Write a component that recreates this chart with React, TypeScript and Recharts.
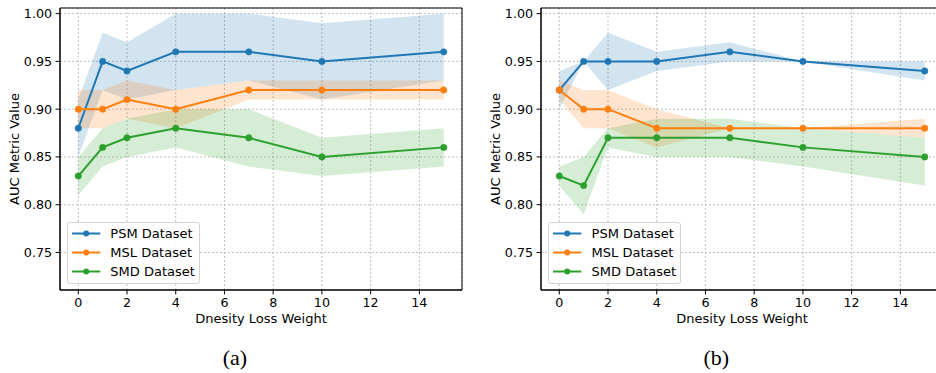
import React from "react";
import {
  ComposedChart,
  Line,
  Area,
  XAxis,
  YAxis,
  CartesianGrid,
  Legend,
  ReferenceArea,
} from "recharts";

// ---- data ----
const xs = [0, 1, 2, 4, 7, 10, 15];
const seriesNames = ["PSM Dataset", "MSL Dataset", "SMD Dataset"];
const colors = ["#1f77b4", "#ff7f0e", "#2ca02c"];
const xTicks = [0, 2, 4, 6, 8, 10, 12, 14];
const yTicks = [0.75, 0.8, 0.85, 0.9, 0.95, 1.0];

// panel (a)
const psmA = [0.88, 0.95, 0.94, 0.96, 0.96, 0.95, 0.96];
const psmALo = [0.85, 0.92, 0.91, 0.92, 0.93, 0.91, 0.93];
const psmAHi = [0.91, 0.98, 0.97, 1.0, 1.0, 0.99, 1.0];
const mslA = [0.9, 0.9, 0.91, 0.9, 0.92, 0.92, 0.92];
const mslALo = [0.88, 0.88, 0.89, 0.88, 0.91, 0.91, 0.91];
const mslAHi = [0.92, 0.92, 0.93, 0.92, 0.93, 0.93, 0.93];
const smdA = [0.83, 0.86, 0.87, 0.88, 0.87, 0.85, 0.86];
const smdALo = [0.81, 0.84, 0.85, 0.86, 0.84, 0.83, 0.84];
const smdAHi = [0.85, 0.88, 0.89, 0.9, 0.9, 0.87, 0.88];

// panel (b)
const psmB = [0.92, 0.95, 0.95, 0.95, 0.96, 0.95, 0.94];
const psmBLo = [0.9, 0.95, 0.92, 0.94, 0.95, 0.95, 0.93];
const psmBHi = [0.94, 0.95, 0.98, 0.96, 0.97, 0.95, 0.95];
const mslB = [0.92, 0.9, 0.9, 0.88, 0.88, 0.88, 0.88];
const mslBLo = [0.91, 0.88, 0.88, 0.86, 0.88, 0.88, 0.87];
const mslBHi = [0.93, 0.92, 0.92, 0.9, 0.88, 0.88, 0.89];
const smdB = [0.83, 0.82, 0.87, 0.87, 0.87, 0.86, 0.85];
const smdBLo = [0.82, 0.79, 0.86, 0.85, 0.85, 0.84, 0.82];
const smdBHi = [0.84, 0.85, 0.88, 0.89, 0.89, 0.88, 0.87];

const X_DOMAIN: [number, number] = [-0.75, 15.75];
const Y_DOMAIN: [number, number] = [0.7107, 1.0059];
const FONT = "'DejaVu Sans', sans-serif";

function buildRows(vals: number[][], los: number[][], his: number[][]) {
  return xs.map((x, i) => ({
    x,
    s0: vals[0][i],
    s1: vals[1][i],
    s2: vals[2][i],
    b0: [los[0][i], his[0][i]],
    b1: [los[1][i], his[1][i]],
    b2: [los[2][i], his[2][i]],
  }));
}

const dataA = buildRows(
  [psmA, mslA, smdA],
  [psmALo, mslALo, smdALo],
  [psmAHi, mslAHi, smdAHi]
);
const dataB = buildRows(
  [psmB, mslB, smdB],
  [psmBLo, mslBLo, smdBLo],
  [psmBHi, mslBHi, smdBHi]
);

const LegendBox = () => (
  <div
    style={{
      position: "relative",
      width: 133,
      height: 62,
      boxSizing: "border-box",
      border: "1px solid #d3d3d3",
      borderRadius: 3,
      background: "rgba(255,255,255,0.8)",
      fontFamily: FONT,
      fontSize: 13,
      color: "#000",
    }}
  >
    {seriesNames.map((n, i) => (
      <div
        key={n}
        style={{
          position: "absolute",
          left: 0,
          top: 1.2 + i * 18.9,
          height: 19,
          display: "flex",
          alignItems: "center",
          whiteSpace: "nowrap",
        }}
      >
        <svg width={40} height={19} style={{ display: "block" }}>
          <line x1={4} x2={32.3} y1={9.5} y2={9.5} stroke={colors[i]} strokeWidth={2} />
          <circle cx={18.2} cy={9.5} r={3} fill={colors[i]} />
        </svg>
        <span style={{ marginLeft: 2.3 }}>{n}</span>
      </div>
    ))}
  </div>
);

function Panel({ data }: { data: any[] }) {
  return (
    <ComposedChart
      width={470}
      height={373}
      data={data}
      margin={{ top: 8, right: 8, bottom: 43, left: 0 }}
    >
      <CartesianGrid stroke="#b0b0b0" strokeDasharray="2 2" strokeWidth={0.8} />
      <XAxis
        dataKey="x"
        type="number"
        domain={X_DOMAIN}
        ticks={xTicks}
        allowDataOverflow
        height={40}
        tickSize={4.4}
        tickMargin={3.5}
        stroke="#000"
        tickLine={{ stroke: "#000" }}
        axisLine={{ stroke: "#000" }}
        tick={{ fill: "#000", fontSize: 12.7, fontFamily: FONT }}
        label={{
          value: "Dnesity Loss Weight",
          position: "insideBottom",
          offset: 7,
          style: { fill: "#000", fontSize: 13, fontFamily: FONT },
        }}
      />
      <YAxis
        type="number"
        domain={Y_DOMAIN}
        ticks={yTicks}
        allowDataOverflow
        width={60}
        tickSize={4.4}
        tickMargin={3.5}
        tickFormatter={(v: number) => v.toFixed(2)}
        tickLine={{ stroke: "#000" }}
        axisLine={{ stroke: "#000" }}
        tick={{ fill: "#000", fontSize: 12.7, fontFamily: FONT }}
        label={{
          value: "AUC Metric Value",
          angle: -90,
          position: "insideLeft",
          offset: 14,
          style: {
            fill: "#000",
            fontSize: 13,
            fontFamily: FONT,
            textAnchor: "middle",
          },
        }}
      />
      {[0, 1, 2].map((i) => (
        <Area
          key={"band" + i}
          type="linear"
          dataKey={"b" + i}
          stroke="none"
          fill={colors[i]}
          fillOpacity={0.2}
          isAnimationActive={false}
          legendType="none"
          activeDot={false}
        />
      ))}
      {[0, 1, 2].map((i) => (
        <Line
          key={"line" + i}
          type="linear"
          dataKey={"s" + i}
          name={seriesNames[i]}
          stroke={colors[i]}
          strokeWidth={2}
          dot={{ r: 3.2, fill: colors[i], stroke: colors[i], strokeWidth: 0.5 }}
          activeDot={false}
          isAnimationActive={false}
        />
      ))}
      <ReferenceArea
        x1={X_DOMAIN[0]}
        x2={X_DOMAIN[1]}
        y1={Y_DOMAIN[0]}
        y2={Y_DOMAIN[1]}
        fill="none"
        fillOpacity={0}
        stroke="#000"
        strokeWidth={1}
        ifOverflow="visible"
      />
      <Legend
        layout="vertical"
        align="center"
        verticalAlign="middle"
        content={() => <LegendBox />}
        wrapperStyle={{ left: 67, top: 221.5, width: 133, height: 62 }}
      />
    </ComposedChart>
  );
}

const captionStyle: React.CSSProperties = {
  position: "absolute",
  top: 346,
  width: 60,
  textAlign: "center",
  fontFamily: "'Liberation Serif', 'Times New Roman', serif",
  fontSize: 22,
  lineHeight: "24px",
  color: "#000",
};

export default function App() {
  return (
    <div
      style={{
        position: "absolute",
        left: 0,
        top: 0,
        width: 936,
        height: 373,
        overflow: "hidden",
        background: "#fff",
      }}
    >
      <div style={{ position: "absolute", left: 0, top: 0 }}>
        <Panel data={dataA} />
      </div>
      <div style={{ position: "absolute", left: 481.3, top: 0 }}>
        <Panel data={dataB} />
      </div>
      <div style={{ ...captionStyle, left: 235 - 30 }}>(a)</div>
      <div style={{ ...captionStyle, left: 716.3 - 30 }}>(b)</div>
    </div>
  );
}
